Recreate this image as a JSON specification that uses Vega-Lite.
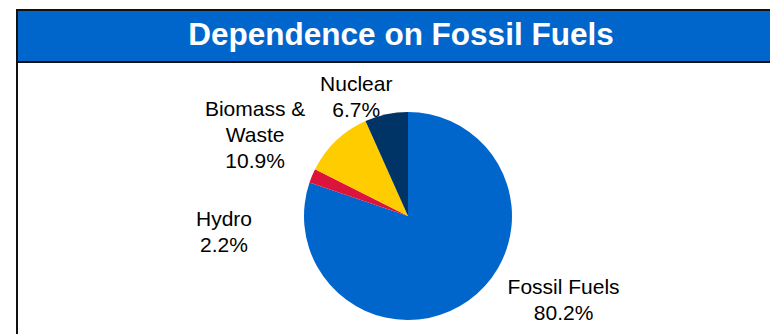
{
  "$schema": "https://vega.github.io/schema/vega-lite/v6.json",
  "padding": {"left": 16, "top": 9, "right": -30, "bottom": -37},
  "background": "white",
  "spacing": 0,
  "bounds": "flush",
  "config": {"font": "Liberation Sans"},
  "vconcat": [
    {
      "width": 768,
      "height": 52,
      "view": {"fill": "#0066CC", "stroke": "#111111", "strokeWidth": 2},
      "data": {"values": [{"title": "Dependence on Fossil Fuels"}]},
      "mark": {"type": "text", "font": "Liberation Sans", "fontWeight": "bold", "fontSize": 31.5, "color": "white", "baseline": "middle", "align": "center"},
      "encoding": {"text": {"field": "title", "type": "nominal"}}
    },
    {
      "width": 782,
      "height": 308,
      "view": {"fill": "white", "stroke": "#111111", "strokeWidth": 2},
      "data": {
        "values": [
          {"source": "Fossil Fuels", "share": 0.802},
          {"source": "Hydro", "share": 0.022},
          {"source": "Biomass & Waste", "share": 0.109},
          {"source": "Nuclear", "share": 0.067}
        ]
      },
      "transform": [
        {"stack": "share", "groupby": [], "as": ["cum_start", "cum_end"]}
      ],
      "layer": [
        {
          "mark": {"type": "arc", "outerRadius": 104},
          "encoding": {
            "theta": {"field": "share", "type": "quantitative", "stack": true},
            "order": {"field": "cum_start", "type": "quantitative", "sort": "ascending"},
            "color": {
              "field": "source",
              "type": "nominal",
              "scale": {"domain": ["Fossil Fuels", "Hydro", "Biomass & Waste", "Nuclear"], "range": ["#0066CC", "#DC143C", "#FFCC00", "#003366"]},
              "legend": null
            }
          }
        },
        {
          "mark": {
            "type": "text",
            "radius": 104,
            "fontSize": 21,
            "lineHeight": 26,
            "baseline": "middle",
            "align": "center",
            "color": "black",
            "text": {"expr": "datum.source === 'Biomass & Waste' ? ['Biomass &', 'Waste', format(datum.share, '.1%')] : [datum.source, format(datum.share, '.1%')]"},
            "dx": {"expr": "datum.source === 'Fossil Fuels' ? 95 : datum.source === 'Hydro' ? -88 : datum.source === 'Biomass & Waste' ? -81 : -30"},
            "dy": {"expr": "datum.source === 'Fossil Fuels' ? -13 : datum.source === 'Hydro' ? 44 : datum.source === 'Biomass & Waste' ? -31 : -29"}
          },
          "encoding": {
            "theta": {"field": "share", "type": "quantitative", "stack": true},
            "order": {"field": "cum_start", "type": "quantitative", "sort": "ascending"},
            "detail": {"field": "source", "type": "nominal"}
          }
        }
      ]
    }
  ]
}
